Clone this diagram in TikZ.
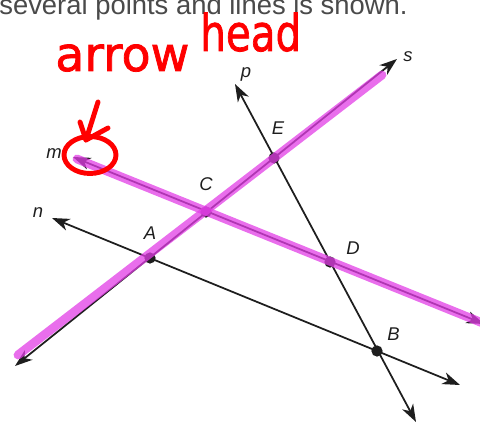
\documentclass[tikz,border=0pt]{standalone}
\usepackage{fontspec}
\setmainfont{Liberation Sans}
\newfontfamily\handfont[FakeBold=1.6]{DejaVu Sans}
\usetikzlibrary{arrows.meta, positioning}
\definecolor{hilite}{HTML}{E23EE6}
\definecolor{inkred}{HTML}{FF0000}
\definecolor{linegray}{HTML}{1E1E1E}
\definecolor{textgray}{HTML}{4A4A4A}
\tikzset{
  geoline/.style={<->, >={Stealth[length=10pt,width=7pt,inset=3pt]},
    line width=1pt, draw=linegray},
  hilite/.style={line width=5pt, draw=hilite, opacity=0.75,
    line cap=round},
  ptdot/.style={circle, fill=linegray, inner sep=0pt,
    minimum size=6.4pt},
  ptlabel/.style={font=\fontsize{10.5}{12}\selectfont\itshape,
    text=linegray, inner sep=1pt},
  note/.style={draw=inkred, line width=2.8pt, line cap=round,
    line join=round},
  hand/.style={font=\handfont\fontsize{27}{30}\selectfont,
    text=inkred, inner sep=0pt, anchor=base west}
}

\begin{document}
\begin{tikzpicture}[x=0.02cm, y=-0.02cm]
  \useasboundingbox (0,0) rectangle (480,425);
  \clip (0,0) rectangle (480,425);

  % caption cut off at the top
  \node[anchor=base west, inner sep=0pt, text=textgray,
        font=\fontsize{15.6}{18}\selectfont] (caption) at (-1,15)
    {several points and lines is shown.};

  % end points of the lines
  \coordinate (s1) at (15,366);  \coordinate (s2) at (397,59);
  \coordinate (m1) at (73,157);  \coordinate (m2) at (484,324);
  \coordinate (n1) at (52,218);  \coordinate (n2) at (460,385);
  \coordinate (p1) at (235,84);  \coordinate (p2) at (416,422);

  \draw[geoline] (s1) -- (s2);
  \draw[geoline] (m1) -- (m2);
  \draw[geoline] (n1) -- (n2);
  \draw[geoline] (p1) -- (p2);

  % points
  \node[ptdot] (A) at (150,258) {};
  \node[ptdot] (C) at (206,212) {};
  \node[ptdot] (E) at (274,158) {};
  \node[ptdot] (D) at (330,262) {};
  \node[ptdot] (B) at (377,351) {};

  % highlighter
  \coordinate (hs1) at (18,355); \coordinate (hs2) at (382,75);
  \coordinate (hm1) at (77,159); \coordinate (hm2) at (490,326);
  \draw[hilite] (hs1) -- (hs2);
  \draw[hilite] (hm1) -- (hm2);

  % labels
  \node[ptlabel, above=0.2cm of A] {A};
  \node[ptlabel, above=0.26cm of C] {C};
  \node[ptlabel, above=0.3cm of E, xshift=0.08cm] {E};
  \node[ptlabel, above right=0.02cm and 0.2cm of D] {D};
  \node[ptlabel, above right=0.08cm and 0.08cm of B] {B};
  \node[ptlabel] (ls) at (408,57) {s};
  \node[ptlabel] (lp) at (246,74) {p};
  \node[ptlabel] (lm) at (54,154) {m};
  \node[ptlabel] (ln) at (38,213) {n};

  % red handwriting
  \node[hand] (hw1) at (55,71) {arrow};
  \node[hand, font=\handfont\fontsize{23}{26}\selectfont, yscale=1.25]
    (hw2) at (200,51) {head};
  \draw[note] (90,155) ellipse [x radius=0.52cm, y radius=0.37cm];
  \coordinate (tail) at (98,102); \coordinate (tip) at (86,140);
  \draw[note] (tail) -- (tip);
  \draw[note] (80,122) -- (tip) -- (108,128);
\end{tikzpicture}
\end{document}
